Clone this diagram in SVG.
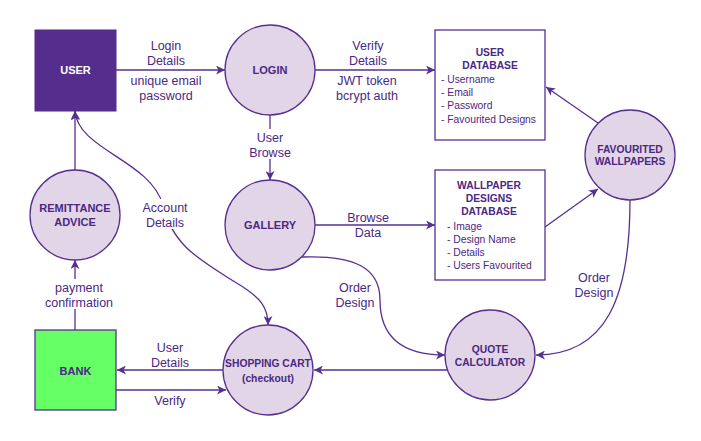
<svg xmlns="http://www.w3.org/2000/svg" width="701" height="441" viewBox="0 0 701 441">
<style>
.ln{fill:none;stroke:#56308f;stroke-width:1.3}
.proc{fill:#e1d5e7;stroke:#56308f;stroke-width:1.3}
.box{fill:#ffffff;stroke:#56308f;stroke-width:1.3}
.lbl{font-family:"Liberation Sans",Arial,sans-serif;font-size:12.5px;fill:#4b2883;text-anchor:middle}
.nt{font-family:"Liberation Sans",Arial,sans-serif;font-size:11px;font-weight:bold;fill:#4b2883;text-anchor:middle}
.nts{font-family:"Liberation Sans",Arial,sans-serif;font-size:10.3px;font-weight:bold;fill:#4b2883;text-anchor:middle}
.item{font-family:"Liberation Sans",Arial,sans-serif;font-size:10.3px;fill:#4b2883}
.bg{fill:#ffffff}
</style>
<defs>
<marker id="arr" markerUnits="userSpaceOnUse" markerWidth="10" markerHeight="9" refX="9" refY="4.5" orient="auto-start-reverse">
<path d="M0,0 L9,4.5 L0,9 L2.5,4.5 z" fill="#56308f"/>
</marker>
</defs>
<rect width="701" height="441" fill="#ffffff"/>

<g id="connectors">
<line class="ln" x1="116" y1="70" x2="225" y2="70" marker-end="url(#arr)"/>
<line class="ln" x1="315" y1="70" x2="435" y2="70" marker-end="url(#arr)"/>
<line class="ln" x1="270" y1="115" x2="270" y2="180" marker-end="url(#arr)"/>
<line class="ln" x1="315" y1="225" x2="435" y2="225" marker-end="url(#arr)"/>
<line class="ln" x1="598" y1="123" x2="546" y2="87" marker-end="url(#arr)"/>
<line class="ln" x1="545" y1="227" x2="598" y2="189" marker-end="url(#arr)"/>
<line class="ln" x1="75" y1="170" x2="75" y2="111" marker-end="url(#arr)"/>
<line class="ln" x1="75" y1="330" x2="75" y2="260" marker-end="url(#arr)"/>
<line class="ln" x1="223" y1="370" x2="117" y2="370" marker-end="url(#arr)"/>
<line class="ln" x1="116" y1="390" x2="226" y2="390" marker-end="url(#arr)"/>
<line class="ln" x1="447" y1="370" x2="314" y2="370" marker-end="url(#arr)"/>
<path class="ln" d="M302 257 C355 255 380 268 380 300 C380 340 405 355 445 355" marker-end="url(#arr)"/>
<path class="ln" d="M630 200 C630 300 605 355 536 355" marker-end="url(#arr)"/>
<path class="ln" d="M75 111 C78 150 150 160 163 205 C172 245 200 260 235 282 C262 298 268 308 268 325" marker-start="url(#arr)" marker-end="url(#arr)"/>
<rect class="bg" x="240" y="129" width="60" height="30"/>
<rect class="bg" x="40" y="279" width="80" height="30"/>
<rect class="bg" x="138" y="199" width="54" height="30"/>
<text class="lbl" x="166" y="50">Login</text>
<text class="lbl" x="166" y="65">Details</text>
<text class="lbl" x="166" y="85">unique email</text>
<text class="lbl" x="166" y="100">password</text>
<text class="lbl" x="368" y="50">Verify</text>
<text class="lbl" x="368" y="65">Details</text>
<text class="lbl" x="367" y="85">JWT token</text>
<text class="lbl" x="367" y="100">bcrypt auth</text>
<text class="lbl" x="270" y="142">User</text>
<text class="lbl" x="270" y="157">Browse</text>
<text class="lbl" x="368" y="222">Browse</text>
<text class="lbl" x="368" y="237">Data</text>
<text class="lbl" x="165" y="212">Account</text>
<text class="lbl" x="165" y="227">Details</text>
<text class="lbl" x="79" y="292">payment</text>
<text class="lbl" x="79" y="307">confirmation</text>
<text class="lbl" x="170" y="352">User</text>
<text class="lbl" x="170" y="367">Details</text>
<text class="lbl" x="170" y="405">Verify</text>
<text class="lbl" x="355" y="292">Order</text>
<text class="lbl" x="355" y="307">Design</text>
<text class="lbl" x="594" y="282">Order</text>
<text class="lbl" x="594" y="297">Design</text>
</g>

<g id="user">
<rect x="35" y="30" width="81" height="81" fill="#552d8c" stroke="#552d8c"/>
<text class="nt" x="75.5" y="74" style="fill:#ffffff">USER</text>
</g>
<g id="login">
<circle class="proc" cx="270" cy="70" r="45"/>
<text class="nt" x="270" y="74">LOGIN</text>
</g>
<g id="user-database">
<rect class="box" x="435" y="30" width="110" height="110"/>
<text class="nts" x="490" y="56">USER</text>
<text class="nts" x="490" y="69">DATABASE</text>
<text class="item" x="441" y="83">- Username</text>
<text class="item" x="441" y="96">- Email</text>
<text class="item" x="441" y="109">- Password</text>
<text class="item" x="441" y="123">- Favourited Designs</text>
</g>
<g id="favourited-wallpapers">
<circle class="proc" cx="630" cy="155" r="45"/>
<text class="nts" x="630" y="153">FAVOURITED</text>
<text class="nts" x="630" y="165">WALLPAPERS</text>
</g>
<g id="gallery">
<circle class="proc" cx="270" cy="225" r="45"/>
<text class="nt" x="270" y="229">GALLERY</text>
</g>
<g id="wallpaper-designs-database">
<rect class="box" x="435" y="170" width="110" height="110"/>
<text class="nts" x="489" y="189">WALLPAPER</text>
<text class="nts" x="489" y="202">DESIGNS</text>
<text class="nts" x="489" y="215">DATABASE</text>
<text class="item" x="447" y="230">- Image</text>
<text class="item" x="447" y="243">- Design Name</text>
<text class="item" x="447" y="256">- Details</text>
<text class="item" x="447" y="269">- Users Favourited</text>
</g>
<g id="remittance-advice">
<circle class="proc" cx="75" cy="215" r="45"/>
<text class="nt" x="75" y="212">REMITTANCE</text>
<text class="nt" x="75" y="226">ADVICE</text>
</g>
<g id="bank">
<rect x="35" y="330" width="81" height="80" fill="#66ff66" stroke="#56308f" stroke-width="1.3"/>
<text class="nt" x="75.5" y="375">BANK</text>
</g>
<g id="shopping-cart">
<circle class="proc" cx="268" cy="370" r="45"/>
<text class="nts" x="268" y="367">SHOPPING CART</text>
<text class="nts" x="268" y="382">(checkout)</text>
</g>
<g id="quote-calculator">
<circle class="proc" cx="490" cy="355" r="45"/>
<text class="nts" x="490" y="353">QUOTE</text>
<text class="nts" x="490" y="366">CALCULATOR</text>
</g>
</svg>
